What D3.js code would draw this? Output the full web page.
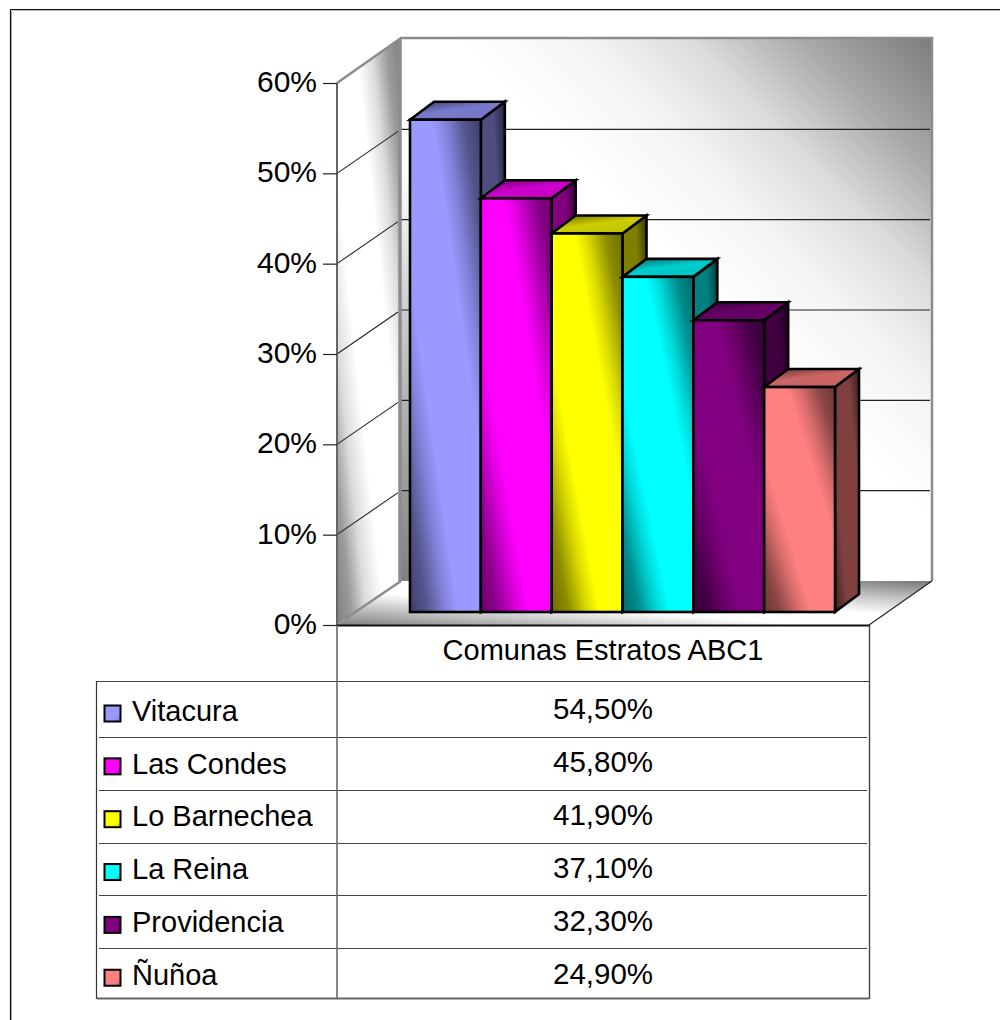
<!DOCTYPE html>
<html>
<head>
<meta charset="utf-8">
<script src="https://cdn.jsdelivr.net/npm/d3@7"></script>
<style>
html,body{margin:0;padding:0;background:#fff;overflow:hidden;}
svg{display:block;font-family:"Liberation Sans",Arial,sans-serif;}
</style>
</head>
<body>
<svg id="chart" width="1000" height="1020"></svg>
<script>
const categories = ["Vitacura","Las Condes","Lo Barnechea","La Reina","Providencia","Ñuñoa"];
const values = [54.5,45.8,41.9,37.1,32.3,24.9];
const valueLabels = ["54,50%","45,80%","41,90%","37,10%","32,30%","24,90%"];
const colors = ["#9999ff","#ff00ff","#ffff00","#00ffff","#800080","#ff8080"];
const ticks = [0,10,20,30,40,50,60];
const seriesTitle = "Comunas Estratos ABC1";

const svg = d3.select("#chart");
const defs = svg.append("defs");

// Plot geometry
const front = {x0:337,x1:869,y0:625,y1:83};
const depth = {dx:64,dy:-44};
const barDepth = {dx:24,dy:-18};
const barBase = 612;
const y = d3.scaleLinear().domain([0,60]).range([front.y0,front.y1]);
const barX = d3.scaleBand().domain(categories).range([410,835]);
const hgt = v => y(0)-y(v);

function linear(id,x1,y1,x2,y2,stops){
  const g = defs.append("linearGradient").attr("id",id)
    .attr("x1",x1).attr("y1",y1).attr("x2",x2).attr("y2",y2);
  stops.forEach(s=>g.append("stop").attr("offset",s[0]).attr("stop-color",s[1]));
}
const shade = (c,k)=>{const r=d3.rgb(c);return d3.rgb(r.r*k,r.g*k,r.b*k).formatHex();};
// Two opposite corners dark, a bright band along the other diagonal
const corners = (id,stops)=>linear(id,1,0,0,1,stops);

corners("backWall",[[0,"#7c7c7c"],[0.12,"#a8a8a8"],[0.23,"#dcdcdc"],[0.33,"#f4f4f4"],[0.45,"#ffffff"],[0.62,"#ffffff"],[0.75,"#cccccc"],[1,"#808080"]]);
corners("sideWall",[[0,"#808080"],[0.12,"#9a9a9a"],[0.24,"#dcdcdc"],[0.36,"#ffffff"],[0.62,"#ffffff"],[0.76,"#dcdcdc"],[0.88,"#9a9a9a"],[1,"#808080"]]);
corners("floorFill",[[0,"#757575"],[0.2,"#bdbdbd"],[0.42,"#ffffff"],[0.6,"#ffffff"],[0.8,"#c0c0c0"],[1,"#808080"]]);

colors.forEach((c,i)=>{
  corners("front"+i,[[0,shade(c,0.42)],[0.12,shade(c,0.55)],[0.25,shade(c,0.85)],[0.34,c],[0.66,c],[0.75,shade(c,0.85)],[0.88,shade(c,0.55)],[1,shade(c,0.42)]]);
  corners("side"+i,[[0,shade(c,0.22)],[0.25,shade(c,0.5)],[0.72,shade(c,0.5)],[1,shade(c,0.25)]]);
  linear("top"+i,0.15,0,0.85,1,[[0,shade(c,0.45)],[0.45,shade(c,0.8)],[1,shade(c,0.76)]]);
  linear("key"+i,0,0,1,1,[[0,c],[0.7,c],[1,shade(c,0.8)]]);
});

// Outer frame runs off the right and bottom of the page
svg.append("path").attr("fill","none").attr("stroke","#bbb").attr("stroke-width",1)
  .attr("d","M12,10.5H1000M11.5,11V1020");
svg.append("path").attr("fill","none").attr("stroke","#111").attr("stroke-width",1.2)
  .attr("d","M10.5,1020V9.5H1000");

// Walls and floor
const bx0 = front.x0+depth.dx, bx1 = front.x1+depth.dx-1;
const by0 = front.y0+depth.dy, by1 = front.y1+depth.dy-1;
const path = pts => "M"+pts.map(p=>p.join(",")).join("L")+"Z";

svg.append("rect").attr("x",bx0).attr("y",by1).attr("width",bx1-bx0).attr("height",by0-by1).attr("fill","url(#backWall)");
svg.append("path").attr("d",path([[front.x0,front.y1],[bx0,by1],[bx0,by0],[front.x0,front.y0]])).attr("fill","url(#sideWall)");
svg.append("path").attr("d",path([[front.x0,front.y0],[bx0,by0],[bx1,by0],[front.x1,front.y0]])).attr("fill","url(#floorFill)");

// Gridlines on the back and side walls
ticks.slice(1,-1).forEach(t=>{
  const yy = y(t);
  svg.append("line").attr("x1",bx0).attr("x2",bx1-2).attr("y1",yy+depth.dy).attr("y2",yy+depth.dy).attr("stroke","#222").attr("stroke-width",1.2);
  svg.append("line").attr("x1",front.x0).attr("x2",bx0-3).attr("y1",yy).attr("y2",yy+depth.dy+2).attr("stroke","#222").attr("stroke-width",1.1);
});

// Wall edges
const edge = "#8c8c8c";
svg.append("path").attr("fill","none").attr("stroke",edge).attr("stroke-width",2.5)
  .attr("d",`M${front.x0},${front.y1}L${bx0},${by1}L${bx1},${by1}L${bx1},${by0}`);
svg.append("path").attr("fill","none").attr("stroke",edge).attr("stroke-width",3.5)
  .attr("d",`M${bx0-1},${by1}L${bx0-1},${by0}`);
svg.append("path").attr("fill","none").attr("stroke",edge).attr("stroke-width",2.5)
  .attr("d",`M${bx0},${by0}L${front.x0+8},${front.y0-6}`);
svg.append("line").attr("x1",bx1).attr("x2",front.x1).attr("y1",by0).attr("y2",front.y0).attr("stroke","#222").attr("stroke-width",1.1);

// Bars, drawn left to right so each bar covers its left neighbour's side face
const bars = svg.append("g").attr("stroke","#000").attr("stroke-width",2.6).attr("stroke-linejoin","miter");
d3.range(categories.length).forEach(i=>{
  const x0 = barX(categories[i]), x1 = x0+barX.bandwidth();
  const yb = barBase, yt = barBase-hgt(values[i]);
  const g = bars.append("g");
  g.append("path").attr("fill",`url(#side${i})`)
    .attr("d",path([[x1,yt],[x1+barDepth.dx,yt+barDepth.dy],[x1+barDepth.dx,yb+barDepth.dy],[x1,yb]]));
  g.append("path").attr("fill",`url(#top${i})`)
    .attr("d",path([[x0,yt],[x0+barDepth.dx,yt+barDepth.dy],[x1+barDepth.dx,yt+barDepth.dy],[x1,yt]]));
  g.append("rect").attr("x",x0).attr("y",yt).attr("width",x1-x0).attr("height",yb-yt).attr("fill",`url(#front${i})`);
});

// Value axis
const axis = d3.axisLeft(y).tickValues(ticks).tickSize(14).tickPadding(6).tickFormat(d=>d+"%");
const axisG = svg.append("g").attr("transform",`translate(${front.x0},0)`).call(axis);
axisG.select(".domain").attr("stroke","#666").attr("stroke-width",2).attr("d",`M0,${front.y1}V${front.y0}`);
axisG.selectAll(".tick line").attr("stroke","#222").attr("stroke-width",1.2);
axisG.selectAll("text").attr("font-size",30).attr("font-family","inherit").attr("fill","#000").attr("dy","0.28em");

// Data table
const rowEdges = [681.5,737.5,790.5,843.5,895.5,948.5,998.5];
const tableLeft = 97, colX = front.x0, tableRight = front.x1;
const tbl = svg.append("g");
tbl.append("line").attr("x1",colX-1).attr("x2",tableRight).attr("y1",front.y0+0.5).attr("y2",front.y0+0.5).attr("stroke","#111").attr("stroke-width",2);
rowEdges.forEach((yy,i)=>{
  const outer = i===0||i===6;
  tbl.append("line").attr("x1",outer?tableLeft:tableLeft+2).attr("x2",outer?tableRight:tableRight-2)
    .attr("y1",yy).attr("y2",yy).attr("stroke",i===6?"#666":"#444").attr("stroke-width",i===6?2:1.2);
});
tbl.append("line").attr("x1",tableLeft-.5).attr("x2",tableLeft-.5).attr("y1",681).attr("y2",999).attr("stroke","#333").attr("stroke-width",1.2);
tbl.append("line").attr("x1",colX).attr("x2",colX).attr("y1",front.y0).attr("y2",999).attr("stroke","#666").attr("stroke-width",1.6);
tbl.append("line").attr("x1",tableRight+.5).attr("x2",tableRight+.5).attr("y1",front.y0).attr("y2",999).attr("stroke","#444").attr("stroke-width",1.4);

tbl.append("text").attr("x",603).attr("y",660).attr("text-anchor","middle").attr("font-size",29).text(seriesTitle);

const rows = tbl.selectAll("g.row").data(categories).join("g").attr("class","row");
rows.append("rect").attr("x",104.5).attr("y",(d,i)=>705.5+52.85*i).attr("width",16).attr("height",16)
  .attr("fill",(d,i)=>`url(#key${i})`).attr("stroke","#000").attr("stroke-width",2);
rows.append("text").attr("x",132).attr("y",(d,i)=>720.7+52.85*i).attr("font-size",29).text(d=>d);
rows.append("text").attr("x",603).attr("y",(d,i)=>719+53*i).attr("text-anchor","middle").attr("font-size",29.5).text((d,i)=>valueLabels[i]);
</script>
</body>
</html>
